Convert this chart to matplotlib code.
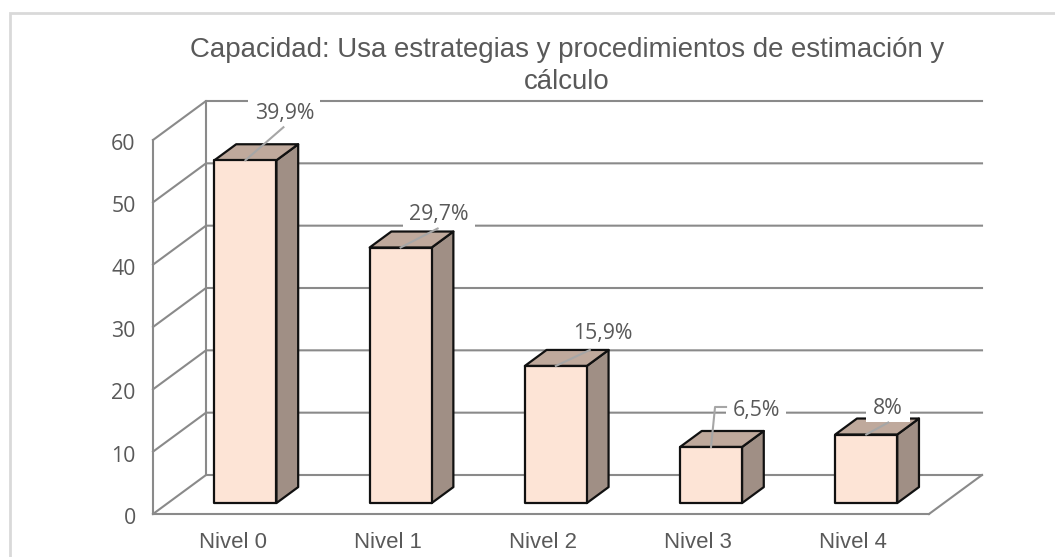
import matplotlib
matplotlib.use('Agg')
import matplotlib.pyplot as plt
from matplotlib.patches import Polygon, Rectangle
from matplotlib.transforms import ScaledTranslation

W, H = 1055, 557

categories = ['Nivel 0', 'Nivel 1', 'Nivel 2', 'Nivel 3', 'Nivel 4']
counts = [55, 41, 22, 9, 11]
pct_labels = ['39,9%', '29,7%', '15,9%', '6,5%', '8%']
y_ticks = [0, 10, 20, 30, 40, 50, 60]

# label centre and leader end, as pixel offsets from the bar's top edge centre
label_off = [(39, 49), (38, 36), (47, 35), (45, 39), (22, 29)]
leader_off = [(38, 33), (37, 19), (34, 16), (4, 40), (22, 12)]
box_half = [(36, 20), (36, 17), (33, 14), (30, 13), (22, 16)]

GRID = '#8a8a8a'
TEXT = '#595959'
FRONT = '#fde4d6'
TOP = '#bfa99c'
SIDE = '#a08f85'

plt.rcParams['font.family'] = ['Liberation Sans', 'DejaVu Sans']

fig = plt.figure(figsize=(W / 100, H / 100), dpi=100)
ax = fig.add_axes([153 / W, 1 - 514 / H, 776 / W, 374 / H])
ax.set_xlim(0, 5)
ax.set_ylim(0, 60)

# oblique depth of the chart box, in data units
DX = 53 / 776 * 5
DY = 39 / 374 * 60


def proj(x, y, d):
    return x + d * DX, y + d * DY


for s in ['top', 'right']:
    ax.spines[s].set_visible(False)
for s in ['left', 'bottom']:
    ax.spines[s].set_color(GRID)
    ax.spines[s].set_linewidth(1.5)

ax.set_xticks([i + 0.5 for i in range(len(categories))])
ax.set_xticklabels(categories, fontsize=15.9, color=TEXT)
ax.set_yticks(y_ticks)
ax.set_yticklabels(y_ticks, fontsize=15.3, color=TEXT, family=['Open Sans', 'DejaVu Sans'])
ax.tick_params(axis='both', length=0)
ax.tick_params(axis='x', pad=13)
ax.tick_params(axis='y', pad=12.5)
for lab in ax.get_xticklabels():
    lab.set_transform(lab.get_transform() + ScaledTranslation(2 / 100, 0, fig.dpi_scale_trans))
for lab in ax.get_yticklabels():
    lab.set_transform(lab.get_transform() + ScaledTranslation(0, -2 / 100, fig.dpi_scale_trans))

# walls and floor
for v in y_ticks:
    x0, y0 = proj(0, v, 0)
    x1, y1 = proj(0, v, 1)
    x2, y2 = proj(5, v, 1)
    ax.plot([x0, x1, x2], [y0, y1, y2], color=GRID, lw=1.5, clip_on=False, zorder=1,
            solid_joinstyle='miter')
x1, y1 = proj(0, 0, 1)
x2, y2 = proj(0, 60, 1)
ax.plot([x1, x2], [y1, y2], color=GRID, lw=1.5, clip_on=False, zorder=1)
x1, y1 = proj(5, 0, 0)
x2, y2 = proj(5, 0, 1)
ax.plot([x1, x2], [y1, y2], color=GRID, lw=1.5, clip_on=False, zorder=1)

# bars
BAR_W = 62 / 776 * 5
D0, D1 = 0.28, 0.69
for i, val in enumerate(counts):
    left = i + 0.5 - BAR_W / 2
    right = left + BAR_W
    a = proj(left, 0, D0)
    b = proj(right, 0, D0)
    c = proj(right, val, D0)
    e = proj(left, val, D0)
    f = proj(right, 0, D1)
    g = proj(right, val, D1)
    k = proj(left, val, D1)
    for pts, col in [([b, f, g, c], SIDE), ([e, c, g, k], TOP), ([a, b, c, e], FRONT)]:
        ax.add_patch(Polygon(pts, closed=True, facecolor=col, edgecolor='#111111', lw=1.6,
                             joinstyle='round', clip_on=False, zorder=3))

# data labels with white boxes and leader lines
to_px = ax.transData
for i, val in enumerate(counts):
    ax_x, ax_y = proj(i + 0.5, val, D0)
    px, py = to_px.transform((ax_x, ax_y))
    lx, ly = label_off[i]
    bw, bh = box_half[i]
    fig.add_artist(Rectangle((px + lx - bw, py + ly - bh), 2 * bw, 2 * bh, transform=None,
                             facecolor='white', edgecolor='none', zorder=4))
    mx, my = leader_off[i]
    xs = [px, px + mx]
    ys = [py, py + my]
    if i == 3:
        xs.append(px + mx + 11)
        ys.append(py + my)
    fig.add_artist(plt.Line2D(xs, ys, transform=None, color='#a6a6a6', lw=1.5, zorder=5))
    fig.text(px + lx, py + ly - 2.5, pct_labels[i], transform=None, ha='center', va='center',
             fontsize=15.3, color=TEXT, family=['Open Sans', 'DejaVu Sans'], zorder=6)

# outer frame, runs off the right and bottom of the picture
fig.add_artist(Rectangle((9.5, -10), W + 20, H - 13 + 10, transform=None, facecolor='none',
                         edgecolor='#d9d9d9', lw=2, zorder=0))

fig.text(567 / W, 1 - 66 / H, 'Capacidad: Usa estrategias y procedimientos de estimación y\ncálculo',
         ha='center', va='center', fontsize=19.9, color=TEXT, linespacing=1.3)

fig.savefig('out.png', dpi=100)
